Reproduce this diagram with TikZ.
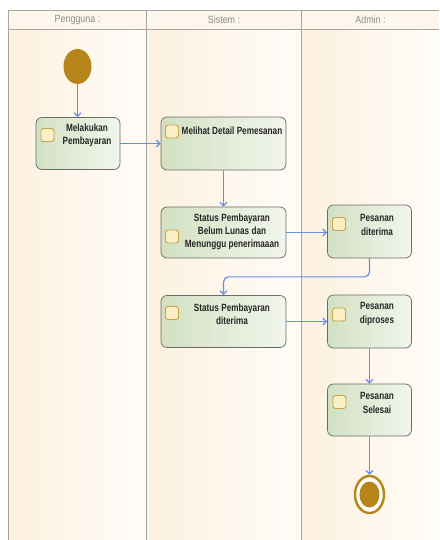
\documentclass[tikz,border=0pt]{standalone}
\usepackage{fontspec}
\setmainfont{Liberation Sans}
\newfontfamily\narrowbf[FakeStretch=0.78]{Liberation Sans Bold}
\newfontfamily\narrowrg[FakeStretch=0.85]{Liberation Sans}
\usetikzlibrary{arrows.meta,shapes.geometric,calc}
\definecolor{gold}{HTML}{B7841A}
\definecolor{creamL}{HTML}{FDF1DF}
\definecolor{creamR}{HTML}{FFFCF8}
\definecolor{hdrc}{HTML}{FDF6EC}
\definecolor{lanec}{HTML}{A9A6A2}
\definecolor{actL}{HTML}{D3E1C2}
\definecolor{actR}{HTML}{F1F5EC}
\definecolor{iconF}{HTML}{FBF0C4}
\definecolor{iconB}{HTML}{C9A24A}
\definecolor{flowc}{HTML}{6A8EE8}
\tikzset{
  hgrad/.style 2 args={path picture={
    \foreach \k in {0,...,23}{
      \pgfmathtruncatemacro\pct{100*\k/23}
      \fill[#2!\pct!#1, sharp corners]
        ($(path picture bounding box.south west)!{\k/24}!(path picture bounding box.south east)+(-0.6,0)$)
        rectangle
        ($(path picture bounding box.north west)!{(\k+1)/24}!(path picture bounding box.north east)+(0.6,0)$);
    }}},
  act/.style={draw=black!58, line width=0.7pt, rounded corners=6pt, hgrad={actL}{actR}, inner sep=0pt},
  icon/.style={draw=iconB, fill=iconF, rounded corners=2.5pt, minimum size=13pt, inner sep=0pt, line width=0.9pt},
  lbl/.style={font=\narrowbf\fontsize{10.5}{13.2}\selectfont, text=black!85, align=center, inner sep=0pt},
  hdr/.style={font=\narrowrg\fontsize{10.5}{12}\selectfont, text=black!45, inner sep=0pt},
  flow/.style={color=flowc, draw=flowc, line width=1.2pt, -{Straight Barb[length=3.5pt,width=7pt]}},
  lane/.style={draw=lanec, line width=0.8pt}
}
\begin{document}
\begin{tikzpicture}[x=1pt,y=-1pt]
\useasboundingbox (0,0) rectangle (439,540);
\fill[white] (0,0) rectangle (439,540);
\fill[hdrc] (8,10) rectangle (439,29.5);
\path[hgrad={creamL}{creamR}] (8,29.5) rectangle (146.5,540);
\path[hgrad={creamL}{creamR}] (146.5,29.5) rectangle (301.5,540);
\path[hgrad={creamL}{creamR}] (301.5,29.5) rectangle (439,540);
% lanes
\draw[lane] (8.5,540) -- (8.5,10.5) -- (439,10.5);
\draw[lane] (8.5,29.5) -- (439,29.5);
\draw[lane] (146.5,10.5) -- (146.5,540);
\draw[lane] (301.5,10.5) -- (301.5,540);
\node[hdr] (h1) at (77.5,20) {Pengguna :};
\node[hdr] (h2) at (224,20) {Sistem :};
\node[hdr] (h3) at (370.5,20) {Admin :};
% start
\node[ellipse, fill=gold, minimum width=28pt, minimum height=35pt, inner sep=0pt] (start) at (77.5,66.5) {};
% activities
\node[act, minimum width=84pt, minimum height=52pt] (A) at (78,143.5) {};
\node[act, minimum width=125pt, minimum height=53pt] (B) at (223.5,143.5) {};
\node[act, minimum width=125pt, minimum height=51pt] (C) at (223.5,232.5) {};
\node[act, minimum width=84pt, minimum height=53pt] (D) at (369.5,231.5) {};
\node[act, minimum width=125pt, minimum height=52pt] (E) at (223.5,321.5) {};
\node[act, minimum width=84pt, minimum height=53pt] (F) at (369.5,321.5) {};
\node[act, minimum width=84pt, minimum height=52pt] (G) at (369.5,410) {};
% icons
\node[icon] (Ai) at (47.5,135) {};
\node[icon] (Bi) at (172,131.5) {};
\node[icon] (Ci) at (172,236.5) {};
\node[icon] (Di) at (339,224) {};
\node[icon] (Ei) at (172,313) {};
\node[icon] (Fi) at (339,314.5) {};
\node[icon] (Gi) at (339.5,402) {};
% labels
\node[lbl] (At) at (87,135.5) {Melakukan\\Pembayaran};
\node[lbl] (Bt) at (232,131) {Melihat Detail Pemesanan};
\node[lbl] (Ct) at (232,232) {Status Pembayaran\\Belum Lunas dan\\Menunggu penerimaaan};
\node[lbl] (Dt) at (377,225) {Pesanan\\diterima};
\node[lbl] (Et) at (232,314) {Status Pembayaran\\diterima};
\node[lbl] (Ft) at (377,314) {Pesanan\\diproses};
\node[lbl] (Gt) at (377,403) {Pesanan\\Selesai};
% end
\node[ellipse, draw=gold, line width=2.4pt, fill=white, minimum width=29pt, minimum height=37pt, inner sep=0pt] (endo) at (369.5,494.5) {};
\node[ellipse, fill=gold, minimum width=20pt, minimum height=26pt, inner sep=0pt] (endi) at (369.5,494.5) {};
% flows
\draw[flow] (start.south) -- (start.south |- A.north);
\draw[flow] (A.east) -- (A.east -| B.west);
\draw[flow] (B.south) -- (C.north);
\draw[flow] (C.east) -- (C.east -| D.west);
\draw[flow, rounded corners=5pt] (D.south) -- ++(0,18.5) -| (E.north);
\draw[flow] (E.east) -- (E.east -| F.west);
\draw[flow] (F.south) -- (G.north);
\draw[flow] (G.south) -- (endo.north);
\end{tikzpicture}
\end{document}
